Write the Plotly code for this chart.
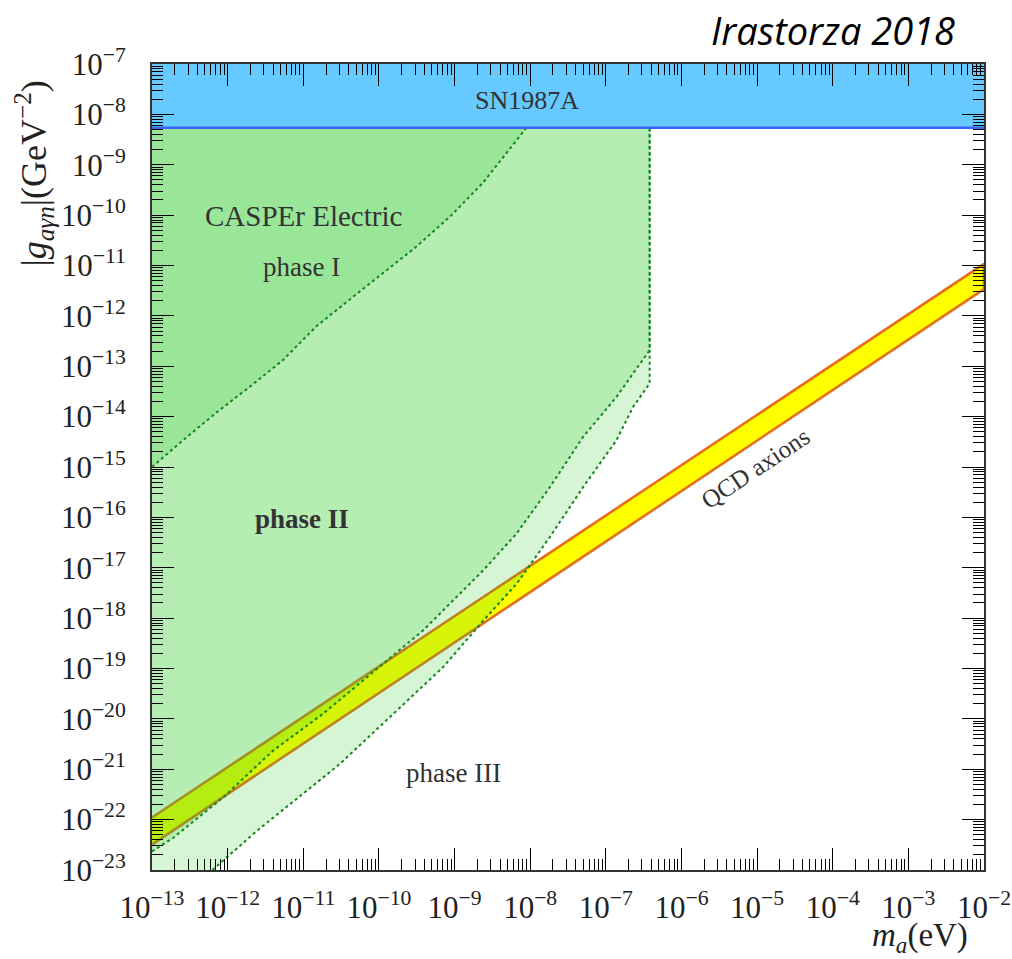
import plotly.graph_objects as go

# ---------------- data (m_a in eV, |g| in GeV^-2) ----------------
x_tick_vals = [1e-13, 1e-12, 1e-11, 1e-10, 1e-9, 1e-8, 1e-7, 1e-6, 1e-5, 1e-4, 1e-3, 1e-2]
x_tick_exps = [13, 12, 11, 10, 9, 8, 7, 6, 5, 4, 3, 2]
y_tick_vals = [1e-7, 1e-8, 1e-9, 1e-10, 1e-11, 1e-12, 1e-13, 1e-14, 1e-15,
               1e-16, 1e-17, 1e-18, 1e-19, 1e-20, 1e-21, 1e-22, 1e-23]
y_tick_exps = [7, 8, 9, 10, 11, 12, 13, 14, 15, 16, 17, 18, 19, 20, 21, 22, 23]

m_min, m_max = 1e-13, 1e-2
g_min, g_max = 1e-23, 1e-7

# SN1987A bound
sn_g = 5.4e-9

# CASPEr Electric phase I boundary
phase1_m = [1e-13, 2.57e-13, 7.08e-13, 1.95e-12, 5.37e-12, 1.48e-11, 4.07e-11,
            1.15e-10, 3.16e-10, 8.71e-10, 2.40e-9, 8.9e-9]
phase1_g = [1e-15, 3.39e-15, 1.20e-14, 3.89e-14, 1.32e-13, 6.17e-13, 2.09e-12,
            7.08e-12, 2.40e-11, 9.33e-11, 4.47e-10, 5.4e-9]

# phase II lower boundary
phase2_m = [1e-13, 1.91e-13, 8.71e-13, 3.98e-12, 1.82e-11, 3.80e-10, 8.71e-10,
            2.40e-9, 6.61e-9, 1.82e-8, 5.01e-8, 1.38e-7, 3.80e-7, 3.80e-7]
phase2_g = [2.34e-23, 4.37e-23, 2.75e-22, 2.34e-21, 1.26e-20, 5.62e-19, 1.95e-18,
            8.91e-18, 4.79e-17, 3.98e-16, 3.98e-15, 2.45e-14, 2.09e-13, 5.4e-9]

# phase III lower boundary
phase3_m = [6.31e-13, 1.07e-12, 2.40e-12, 6.61e-12, 3.02e-11, 7.08e-10, 2.40e-9,
            6.61e-9, 1.82e-8, 5.01e-8, 1.38e-7, 2.29e-7, 3.80e-7, 3.80e-7]
phase3_g = [1e-23, 2.04e-23, 5.89e-23, 2.00e-22, 1.26e-21, 1.07e-19, 8.91e-19,
            4.79e-18, 4.07e-17, 3.98e-16, 3.39e-15, 1.55e-14, 4.57e-14, 5.4e-9]

# QCD axion band
band_m = [1e-13, 1e-2]
band_g_low = [3.2e-23, 3.4e-12]
band_g_high = [1.1e-22, 1.08e-11]

# ---------------- figure ----------------
fig = go.Figure()

# QCD axion band (under the transparent green regions)
fig.add_trace(go.Scatter(
    x=band_m + band_m[::-1], y=band_g_low + band_g_high[::-1],
    mode="lines", fill="toself", fillcolor="#ffff00",
    line=dict(color="#e2701c", width=2.6), hoverinfo="skip", showlegend=False))

green_fill = "rgba(50,205,45,0.20)"
line_green = "#17861f"

# phase III area
fig.add_trace(go.Scatter(
    x=[m_min] + phase3_m + [m_min], y=[g_min] + phase3_g + [sn_g],
    mode="lines", fill="toself", fillcolor=green_fill,
    line=dict(width=0), hoverinfo="skip", showlegend=False))
# phase II area
fig.add_trace(go.Scatter(
    x=phase2_m + [m_min], y=phase2_g + [sn_g],
    mode="lines", fill="toself", fillcolor=green_fill,
    line=dict(width=0), hoverinfo="skip", showlegend=False))
# phase I area
fig.add_trace(go.Scatter(
    x=phase1_m + [m_min], y=phase1_g + [sn_g],
    mode="lines", fill="toself", fillcolor=green_fill,
    line=dict(width=0), hoverinfo="skip", showlegend=False))

# dotted boundaries
for xs, ys in [(phase3_m, phase3_g), (phase2_m, phase2_g), (phase1_m, phase1_g)]:
    fig.add_trace(go.Scatter(
        x=xs, y=ys, mode="lines",
        line=dict(color=line_green, width=2.0, dash="dot"),
        hoverinfo="skip", showlegend=False))

# SN1987A band
fig.add_trace(go.Scatter(
    x=[m_min, m_max, m_max, m_min], y=[g_max, g_max, sn_g, sn_g],
    mode="lines", fill="toself", fillcolor="#66c9ff",
    line=dict(width=0), hoverinfo="skip", showlegend=False))
fig.add_trace(go.Scatter(
    x=[m_min, m_max], y=[sn_g, sn_g], mode="lines",
    line=dict(color="#3a64f0", width=2.5), hoverinfo="skip", showlegend=False))

serif = "Liberation Serif, DejaVu Serif, serif"
tick_font = dict(family=serif, size=31, color="#222")

axis_common = dict(
    type="log", ticks="inside", ticklen=22, tickwidth=1.4, tickcolor="black",
    showline=True, linecolor="#333", linewidth=2, mirror="ticks",
    showgrid=False, zeroline=False, tickfont=tick_font, automargin=False,
    minor=dict(ticks="inside", ticklen=11, tickwidth=1.2, tickcolor="black",
               dtick="D1", showgrid=False),
)

fig.update_layout(
    width=1012, height=959,
    margin=dict(l=152, r=28, t=64, b=89),
    paper_bgcolor="white", plot_bgcolor="white",
    xaxis=dict(range=[-13, -2], tickvals=x_tick_vals,
               ticktext=[f"10<sup>\u2212{e}</sup>" for e in x_tick_exps],
               ticklabelstandoff=9, **axis_common),
    yaxis=dict(range=[-23, -7], tickvals=y_tick_vals,
               ticktext=[f"10<sup>\u2212{e}</sup>" for e in y_tick_exps],
               ticklabelstandoff=18, **axis_common),
)

txt = dict(family=serif, color="#333")
ann = [
    dict(x=-8.04, y=-7.73, text="SN1987A", font=dict(size=26, **txt)),
    dict(x=-11.0, y=-10.01, text="CASPEr Electric", font=dict(size=29, **txt)),
    dict(x=-11.02, y=-11.03, text="phase I", font=dict(size=27, **txt)),
    dict(x=-11.02, y=-16.04, text="<b>phase II</b>", font=dict(size=27, **txt)),
    dict(x=-9.02, y=-21.07, text="phase III", font=dict(size=27, **txt)),
    dict(x=-5.03, y=-15.02, text="QCD axions", textangle=-33.7,
         font=dict(size=25, **txt)),
]
for a in ann:
    fig.add_annotation(xref="x", yref="y", showarrow=False,
                       xanchor="center", yanchor="middle", **a)

# axis titles
fig.add_annotation(xref="paper", yref="paper", x=-0.142, y=0.864,
                   xanchor="center", yanchor="middle",
                   text="|<i>g</i><sub><i>a\u03b3n</i></sub>|(GeV<sup>\u22122</sup>)",
                   textangle=-90, showarrow=False,
                   font=dict(family=serif, size=36, color="#222"))
fig.add_annotation(xref="paper", yref="paper", x=0.923, y=-0.0835,
                   xanchor="center", yanchor="middle",
                   text="<i>m</i><sub><i>a</i></sub>(eV)", showarrow=False,
                   font=dict(family=serif, size=33, color="#222"))
# header
fig.add_annotation(xref="paper", yref="paper", x=0.9675, y=1.042,
                   xanchor="right", yanchor="middle",
                   text="<i>Irastorza 2018</i>", showarrow=False,
                   font=dict(family="Liberation Sans Narrow, Open Sans, sans-serif",
                             size=38, color="black"))

# remove the default page margin so the figure fills the window exactly
fig.write_html("out.html",
               config={"displayModeBar": False},
               post_script="document.body.style.margin='0';"
                           "document.body.style.overflow='hidden';")
